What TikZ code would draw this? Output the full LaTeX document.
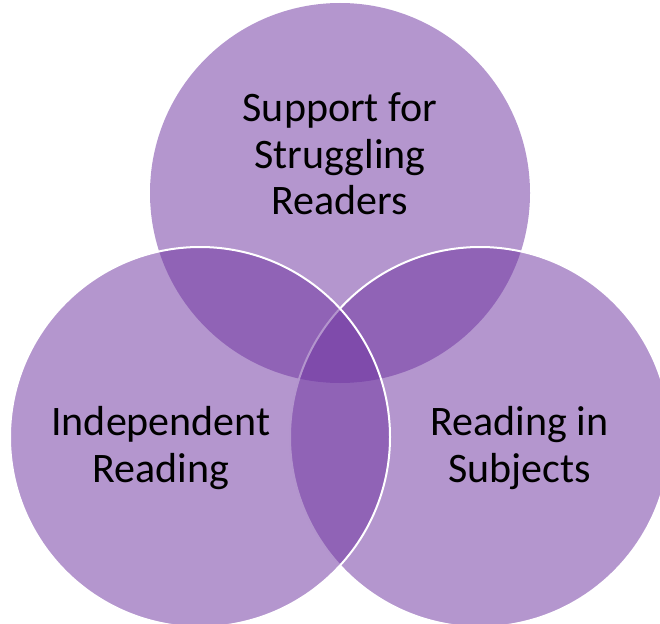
\documentclass[tikz,border=0pt]{standalone}
\usepackage{fontspec}
\setmainfont{Carlito}
\usepackage{tikz}
\definecolor{vennpurple}{RGB}{111,53,161}

\begin{document}
\begin{tikzpicture}[x=1pt,y=-1pt,
    venn/.style={circle,minimum size=380pt,inner sep=0pt,fill=vennpurple,fill opacity=0.52},
    rim/.style={draw=white,line width=2pt},
    label/.style={align=center,text=black,inner sep=0pt,font=\fontsize{42}{46.5}\selectfont}]
    \useasboundingbox (0,0) rectangle (660,623);
    \clip (0,0) rectangle (660,623);
    \node[venn] (top) at (340,193) {};
    \node[venn,rim] (right) at (480,437) {};
    \node[venn,rim] (left) at (200,437) {};
    \node[label] (toptext) at (340,154) {Support for\\Struggling\\Readers};
    \node[label] (lefttext) at (161,448) {Independent\\Reading};
    \node[label] (righttext) at (519.5,448) {Reading in\\Subjects};
  \end{tikzpicture}
\end{document}
